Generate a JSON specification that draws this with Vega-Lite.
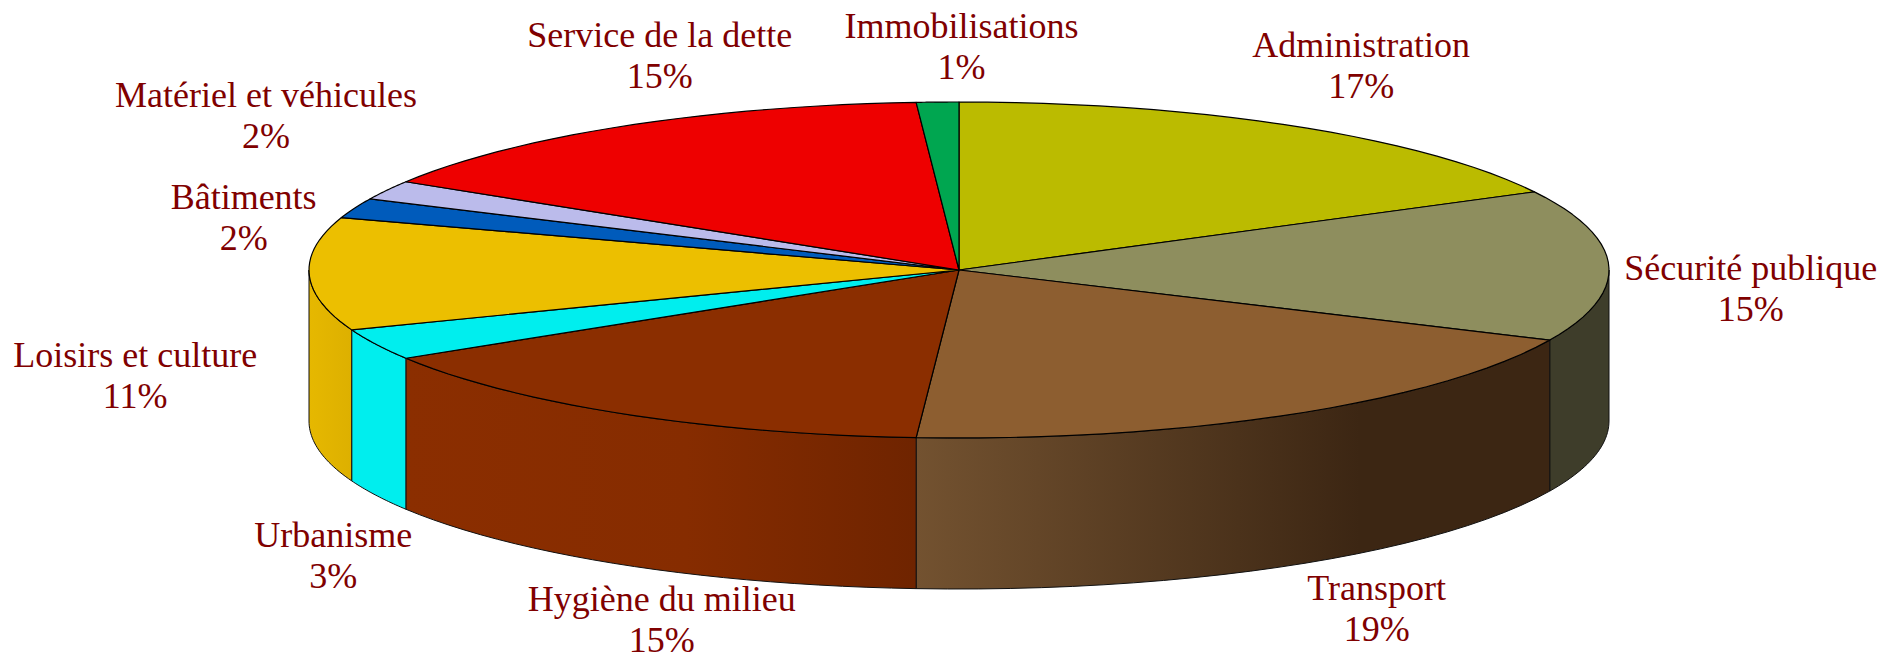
{
 "$schema":"https://vega.github.io/schema/vega-lite/v6.json",
 "width":1886,"height":654,"padding":0,"autosize":"none",
 "background":"white",
 "config":{"view":{"stroke":null}},
 "data":{"values":[
  {"rank":1,"category":"Administration","share":17.3},
  {"rank":2,"category":"Sécurité publique","share":14.55},
  {"rank":3,"category":"Transport","share":19.2},
  {"rank":4,"category":"Hygiène du milieu","share":15.15},
  {"rank":5,"category":"Urbanisme","share":3.0},
  {"rank":6,"category":"Loisirs et culture","share":10.85},
  {"rank":7,"category":"Bâtiments","share":1.9},
  {"rank":8,"category":"Matériel et véhicules","share":1.85},
  {"rank":9,"category":"Service de la dette","share":15.15},
  {"rank":10,"category":"Immobilisations","share":1.05}
 ]},
 "transform":[
  {"window":[{"op":"sum","field":"share","as":"cum"}],"sort":[{"field":"rank","order":"ascending"}]},
  {"calculate":"(datum.cum-datum.share)*3.6","as":"start"},
  {"calculate":"datum.cum*3.6","as":"end"},
  {"calculate":"[-1,0,0.04,0.08,0.12,0.16,0.2,0.24,0.28,0.32,0.36,0.4,0.44,0.48,0.52,0.56,0.6,0.64,0.68,0.72,0.76,0.8,0.84,0.88,0.92,0.96,1,2]","as":"t"},
  {"flatten":["t"]}
 ],
 "encoding":{
  "x":{"field":"px","type":"quantitative","scale":{"domain":[0,1886]},"axis":null},
  "y":{"field":"py","type":"quantitative","scale":{"domain":[654,0]},"axis":null}
 },
 "layer":[
  {
   "transform":[
    {"filter":"datum.t>=0 && datum.t<=1 && datum.end>90 && datum.start<270"},
    {"calculate":"clamp(datum.start,90,270)","as":"a0"},
    {"calculate":"clamp(datum.end,90,270)","as":"a1"},
    {"calculate":"(datum.a0+datum.t*(datum.a1-datum.a0))*PI/180","as":"ang"},
    {"calculate":"959+650*sin(datum.ang)","as":"px"},
    {"calculate":"270-168*cos(datum.ang)","as":"py"},
    {"calculate":"datum.py+151","as":"py2"}
   ],
   "encoding":{"y2":{"field":"py2"}},
   "layer":[
    {"transform":[{"filter":"datum.rank==2"}],"mark":{"type":"area","fill":"#3E3D2A","stroke":"#111","strokeWidth":1}},
    {"transform":[{"filter":"datum.rank==3"}],"mark":{"type":"area","stroke":"#111","strokeWidth":1,"fill":{"gradient":"linear","x1":0,"x2":1,"y1":0,"y2":0,"stops":[{"offset":0,"color":"#735230"},{"offset":0.7,"color":"#3C2613"},{"offset":1,"color":"#3C2613"}]}}},
    {"transform":[{"filter":"datum.rank==4"}],"mark":{"type":"area","stroke":"#111","strokeWidth":1,"fill":{"gradient":"linear","x1":0,"x2":1,"y1":0,"y2":0,"stops":[{"offset":0,"color":"#8B2E00"},{"offset":0.55,"color":"#862C00"},{"offset":1,"color":"#6F2400"}]}}},
    {"transform":[{"filter":"datum.rank==5"}],"mark":{"type":"area","fill":"#00EEEE","stroke":"#111","strokeWidth":1}},
    {"transform":[{"filter":"datum.rank==6"}],"mark":{"type":"area","stroke":"#111","strokeWidth":1,"fill":{"gradient":"linear","x1":0,"x2":1,"y1":0,"y2":0,"stops":[{"offset":0,"color":"#E6B800"},{"offset":1,"color":"#DDB000"}]}}}
   ]
  },
  {
   "transform":[
    {"calculate":"(datum.start+datum.t*(datum.end-datum.start))*PI/180","as":"ang"},
    {"calculate":"datum.t<0||datum.t>1 ? 959 : 959+650*sin(datum.ang)","as":"px"},
    {"calculate":"datum.t<0||datum.t>1 ? 270 : 270-168*cos(datum.ang)","as":"py"}
   ],
   "mark":{"type":"line","stroke":"#000","strokeWidth":1.2,"strokeJoin":"round","opacity":1},
   "encoding":{
    "fill":{"field":"category","type":"nominal","legend":null,"scale":{
     "domain":["Administration","Sécurité publique","Transport","Hygiène du milieu","Urbanisme","Loisirs et culture","Bâtiments","Matériel et véhicules","Service de la dette","Immobilisations"],
     "range":["#BBBB00","#8E8E5E","#8D5E30","#8B2E00","#00EEEE","#ECBF00","#005BBB","#BBBBEB","#EE0000","#00A650"]}},
    "order":{"field":"t","type":"quantitative"}
   }
  },
  {
   "transform":[
    {"filter":"datum.t==0"},
    {"calculate":"(datum.start+datum.end)/2*PI/180","as":"mid"},
    {"calculate":"{'Administration':66,'Sécurité publique':142,'Transport':85,'Hygiène du milieu':38,'Urbanisme':-43,'Loisirs et culture':-174,'Bâtiments':-111,'Matériel et véhicules':-121,'Service de la dette':36,'Immobilisations':24}[datum.category]","as":"nudgeX"},
    {"calculate":"{'Administration':-60,'Sécurité publique':23,'Transport':43,'Hygiène du milieu':54,'Urbanisme':60,'Loisirs et culture':-50,'Bâtiments':10,'Matériel et véhicules':-74,'Service de la dette':-70,'Immobilisations':-55}[datum.category]","as":"nudgeY"},
    {"calculate":"959+650*sin(datum.mid)+datum.nudgeX","as":"px"},
    {"calculate":"270-168*cos(datum.mid)+(cos(datum.mid)<0?152:0)+datum.nudgeY","as":"py"},
    {"calculate":"datum.category+'\\n'+round(datum.share)+'%'","as":"label"}
   ],
   "mark":{"type":"text","font":"Liberation Serif","fontSize":36,"color":"#800000","lineBreak":"\n","lineHeight":41,"align":"center","baseline":"middle","dy":-20},
   "encoding":{"text":{"field":"label","type":"nominal"}}
  }
 ]
}
